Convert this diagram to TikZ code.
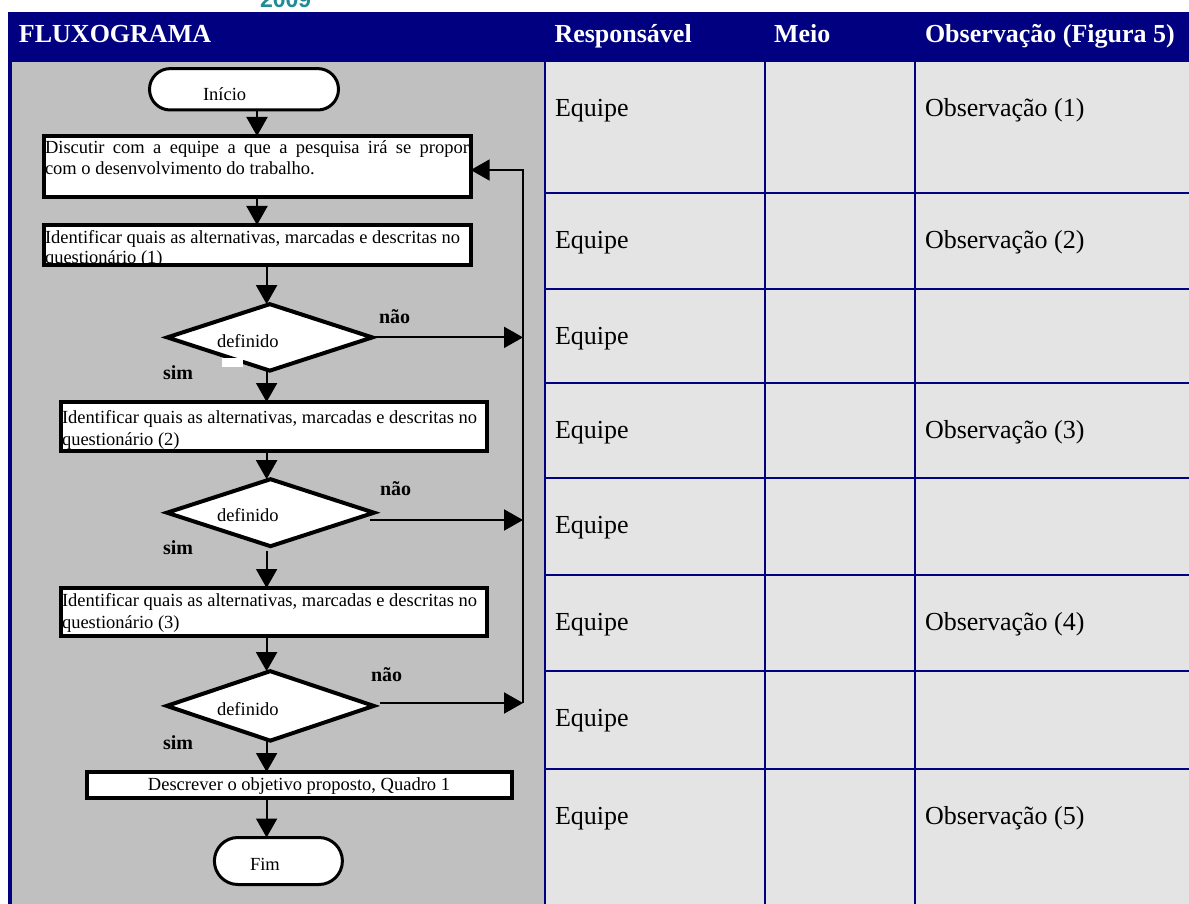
\documentclass[tikz,border=0pt]{standalone}
\usepackage{fontspec}
\setmainfont{Liberation Serif}
\newfontfamily\logofont{Liberation Sans}
\usetikzlibrary{arrows.meta,shapes.geometric,calc}

\definecolor{navy}{RGB}{0,0,128}
\definecolor{colgray}{RGB}{192,192,192}
\definecolor{cellgray}{RGB}{228,228,228}
\definecolor{logoteal}{RGB}{30,139,150}

\begin{document}
\begin{tikzpicture}[x=1pt,y=-1pt,
  every node/.style={inner sep=0pt, outer sep=0pt},
  hdr/.style={anchor=base west, text=white, font=\fontsize{26}{30}\selectfont\bfseries},
  cell/.style={anchor=base west, font=\fontsize{26}{30}\selectfont},
  gridline/.style={draw=navy, line width=2pt},
  procbox/.style={draw, fill=white, line width=4pt, rectangle},
  decision/.style={draw, fill=white, line width=4pt, diamond},
  terminal/.style={draw, fill=white, line width=3pt, rectangle},
  small/.style={anchor=base west, font=\fontsize{18.5}{22}\selectfont},
  answer/.style={anchor=base west, font=\fontsize{20}{24}\selectfont\bfseries},
  flow/.style={line width=2pt, -{Triangle[length=19pt,width=21pt]}}
]
\useasboundingbox (0,0) rectangle (1189,904);
\fill[white] (0,0) rectangle (1189,904);

% logo year, cut by the top edge
\node[anchor=base west, text=logoteal, font=\logofont\bfseries\fontsize{23}{26}\selectfont] (year) at (260,7.5) {2009};

% table background
\fill[navy] (8,12) rectangle (1189,62);
\fill[navy] (8,62) rectangle (12,904);
\fill[colgray] (12,62) rectangle (545,904);
\fill[cellgray] (545,62) rectangle (1189,904);

% grid
\foreach \t in {193,289,383,478,575,671,769}
  \draw[gridline] (545,\t) -- (1189,\t);
\foreach \c in {545,765,915}
  \draw[gridline] (\c,62) -- (\c,904);

% header
\node[hdr] (h1) at (19,42.3) {FLUXOGRAMA};
\node[hdr] (h2) at (554.5,42.3) {Responsável};
\node[hdr] (h3) at (774,42.3) {Meio};
\node[hdr] (h4) at (925,42.3) {Observação (Figura 5)};

% table cells
\foreach \t in {62,193,289,383,478,575,671,769}
  \node[cell] at (555,{\t+55}) {Equipe};
\node[cell] (o1) at (925,117) {Observação (1)};
\node[cell] (o2) at (925,248) {Observação (2)};
\node[cell] (o3) at (925,438) {Observação (3)};
\node[cell] (o4) at (925,630) {Observação (4)};
\node[cell] (o5) at (925,824) {Observação (5)};

% flowchart
\coordinate (colA) at (257,0);
\coordinate (colB) at (266.6,0);
\coordinate (loopx) at (523,0);

\node[terminal, rounded corners=20.7pt, minimum width=189pt, minimum height=41.4pt] (ini) at (244,89.3) {};
\node[small] (tini) at (203,100.7) {Início};

\node[procbox, minimum width=427pt, minimum height=61pt] (b1) at (257.2,166.5) {};
\node[small] (tb1a) at (45,153.3) {\makebox[424pt][s]{Discutir com a equipe a que a pesquisa irá se propor}};
\node[small] (tb1b) at (45,174.5) {com o desenvolvimento do trabalho.};

\node[procbox, minimum width=427.3pt, minimum height=40pt] (b2) at (257.3,245) {};
\node[small] (tb2a) at (45,243.5) {Identificar quais as alternativas, marcadas e descritas no};
\node[small] (tb2b) at (45,263) {questionário (1)};

\node[decision, minimum width=205pt, minimum height=66.5pt] (d1) at (269.8,337.4) {};
\fill[white] (222,358) rectangle (243,367);
\node[small] (td1) at (217,347.7) {definido};

\node[procbox, minimum width=426pt, minimum height=49pt] (b3) at (274,426.5) {};
\node[small] (tb3a) at (62,423.5) {Identificar quais as alternativas, marcadas e descritas no};
\node[small] (tb3b) at (62,445) {questionário (2)};

\node[decision, minimum width=207pt, minimum height=67pt] (d2) at (270.5,512.7) {};
\node[small] (td2) at (217,521.7) {definido};

\node[procbox, minimum width=426pt, minimum height=48pt] (b4) at (274,612) {};
\node[small] (tb4a) at (62,606) {Identificar quais as alternativas, marcadas e descritas no};
\node[small] (tb4b) at (62,628) {questionário (3)};

\node[decision, minimum width=207pt, minimum height=69.5pt] (d3) at (270.3,705.9) {};
\node[small] (td3) at (217,715) {definido};

\node[procbox, minimum width=425pt, minimum height=26pt] (b5) at (299.5,785) {};
\node[small, anchor=base] (tb5) at (299,790) {Descrever o objetivo proposto, Quadro 1};

\node[terminal, rounded corners=23.5pt, minimum width=128pt, minimum height=47pt] (fim) at (278.4,861) {};
\node[small] (tfim) at (250,870) {Fim};

% answers
\node[answer] (n1) at (379,323.3) {não};
\node[answer] (n2) at (380,495) {não};
\node[answer] (n3) at (371,681.7) {não};
\node[answer] (s1) at (163,379.3) {sim};
\node[answer] (s2) at (163,554.3) {sim};
\node[answer] (s3) at (163,749.3) {sim};

% main flow
\draw[flow] (ini.south -| colA) -- (b1.north -| colA);
\draw[flow] (b1.south -| colA) -- (b2.north -| colA);
\draw[flow] (b2.south -| colB) -- (d1.north -| colB);
\draw[flow] (d1.south -| colB) -- (b3.north -| colB);
\draw[flow] (b3.south -| colB) -- (d2.north -| colB);
\draw[flow] ($(d2.south -| colB)+(0,5)$) -- (b4.north -| colB);
\draw[flow] (b4.south -| colB) -- (d3.north -| colB);
\draw[flow] (d3.south -| colB) -- (b5.north -| colB);
\draw[flow] (b5.south -| colB) -- (fim.north -| colB);

% "não" branches and the return loop
\coordinate (d2out) at (370,520);
\coordinate (d3out) at (380,703);
\coordinate (ret) at (523,170);
\draw[flow] (d1.east) -- (d1.east -| loopx);
\draw[flow] (d2out) -- (d2out -| loopx);
\draw[flow] (d3out) -- (d3out -| loopx);
\draw[flow] (d3out -| loopx) -- (ret) -- (b1.east |- ret);
\end{tikzpicture}
\end{document}
